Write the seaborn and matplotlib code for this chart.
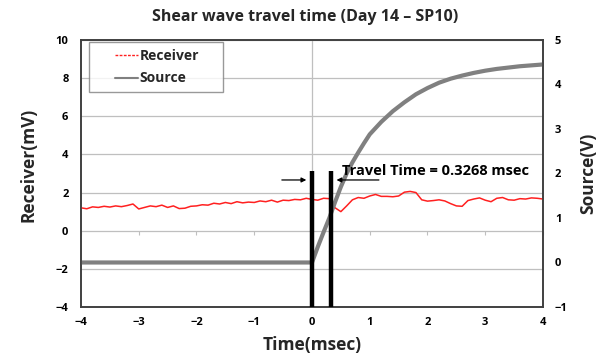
import numpy as np
import pandas as pd
import matplotlib
matplotlib.use("Agg")
import matplotlib.pyplot as plt
from matplotlib.lines import Line2D
from matplotlib.legend_handler import HandlerLine2D
import seaborn as sns

# Receiver signal (mV) vs time (msec)
receiver_time = [round(-4.0 + 0.1 * i, 1) for i in range(81)]
receiver_mv = [
    1.20, 1.15, 1.25, 1.22, 1.28, 1.24, 1.30, 1.26, 1.32, 1.40,
    1.14, 1.22, 1.30, 1.26, 1.34, 1.22, 1.30, 1.16, 1.18, 1.28,
    1.30, 1.36, 1.34, 1.44, 1.40, 1.48, 1.42, 1.52, 1.46, 1.50,
    1.48, 1.56, 1.52, 1.60, 1.50, 1.60, 1.58, 1.64, 1.62, 1.70,
    1.64, 1.60, 1.70, 1.68, 1.20, 1.00, 1.30, 1.62, 1.74, 1.70,
    1.82, 1.90, 1.80, 1.80, 1.78, 1.82, 2.02, 2.06, 2.00, 1.62,
    1.55, 1.58, 1.62, 1.56, 1.42, 1.30, 1.28, 1.58, 1.66, 1.72,
    1.60, 1.52, 1.70, 1.74, 1.62, 1.60, 1.68, 1.66, 1.72, 1.70,
    1.66,
]

# Source signal (V) vs time (msec)
source_time = [-4.0, -3.0, -2.0, -1.0, 0.0, 0.1, 0.2, 0.3, 0.4, 0.5, 0.6,
               0.7, 0.8, 0.9, 1.0, 1.2, 1.4, 1.6, 1.8, 2.0, 2.2, 2.4, 2.6,
               2.8, 3.0, 3.2, 3.4, 3.6, 3.8, 4.0]
source_v = [0.0, 0.0, 0.0, 0.0, 0.0, 0.35, 0.68, 1.00, 1.36, 1.70, 2.00,
            2.25, 2.47, 2.68, 2.88, 3.16, 3.40, 3.60, 3.78, 3.92, 4.04, 4.13,
            4.20, 4.26, 4.31, 4.35, 4.38, 4.41, 4.43, 4.45]

# Picked arrival markers (msec) and their height (mV)
pick_times = [0.0, 0.3268]
pick_top = 3.13
arrow_level = 2.66
travel_time = 0.3268

x_ticks = [-4, -3, -2, -1, 0, 1, 2, 3, 4]
left_ticks = [-4, -2, 0, 2, 4, 6, 8, 10]
right_ticks = [-1, 0, 1, 2, 3, 4, 5]

LEFT_LIM = (-4, 10)
RIGHT_LIM = (-1, 5)


def mv_to_v(mv):
    """Map a receiver-axis value onto the source axis."""
    frac = (mv - LEFT_LIM[0]) / (LEFT_LIM[1] - LEFT_LIM[0])
    return RIGHT_LIM[0] + frac * (RIGHT_LIM[1] - RIGHT_LIM[0])


sns.set_theme(style="white")
plt.rcParams["font.family"] = ["Open Sans", "DejaVu Sans"]
plt.rcParams["font.weight"] = "bold"

fig = plt.figure(figsize=(6.04, 3.58), dpi=100)
ax = fig.add_axes([0.1341, 0.1425, 0.7649, 0.7458])

rec = pd.DataFrame({"t": receiver_time, "v": receiver_mv})
src = pd.DataFrame({"t": source_time, "v": source_v})

ax.set_xlim(-4, 4)
ax.set_ylim(*LEFT_LIM)
ax.set_yticks(left_ticks)
ax.set_xticks(x_ticks)
ax.grid(axis="y", color="#bfbfbf", lw=0.9)
ax.axvline(0, color="#bfbfbf", lw=0.9, zorder=0)

# horizontal axis crossing at 0 mV with small tick marks
zero_frac = (0 - LEFT_LIM[0]) / (LEFT_LIM[1] - LEFT_LIM[0])
sax = ax.secondary_xaxis(zero_frac)
sax.set_xticks(x_ticks)
sax.set_xticklabels([])
sax.tick_params(direction="out", length=3, width=0.8, color="#bfbfbf")
sax.spines["bottom"].set_visible(False)
sax.spines["top"].set_visible(False)

sns.lineplot(data=rec, x="t", y="v", ax=ax, color="#ff2020", lw=1.1,
             legend=False, zorder=3)

ax2 = ax.twinx()
ax2.set_ylim(*RIGHT_LIM)
ax2.set_yticks(right_ticks)
sns.lineplot(data=src, x="t", y="v", ax=ax2, color="#808080", lw=3.0,
             legend=False, zorder=2)

ax2.set_zorder(ax.get_zorder() + 1)
ax.patch.set_visible(False)

# arrival markers
for pt in pick_times:
    ax2.plot([pt, pt], [RIGHT_LIM[0], mv_to_v(pick_top)], color="black",
             lw=3.2, solid_capstyle="butt", zorder=5)

ya = mv_to_v(arrow_level)
ax2.annotate("", xy=(pick_times[0] - 0.05, ya), xytext=(pick_times[0] - 0.57, ya),
             arrowprops=dict(arrowstyle="-|>", color="black", lw=0.9,
                             mutation_scale=7))
ax2.annotate("", xy=(pick_times[1] + 0.05, ya), xytext=(pick_times[1] + 0.88, ya),
             arrowprops=dict(arrowstyle="-|>", color="black", lw=0.9,
                             mutation_scale=7))
ax2.text(0.52, mv_to_v(pick_top), f"Travel Time = {travel_time:.4f} msec",
         fontsize=10.5, fontweight="bold", va="center", ha="left", color="black")

for a in (ax, ax2):
    a.set_xlabel("")
    a.set_ylabel("")
    for s in a.spines.values():
        s.set_color("#404040")
        s.set_linewidth(1.2)
    a.tick_params(length=0, labelsize=8, colors="black")
for lab in ax.get_xticklabels() + ax.get_yticklabels() + ax2.get_yticklabels():
    lab.set_fontweight("bold")
ax.tick_params(axis="y", pad=9)
ax.tick_params(axis="x", pad=7)
ax2.tick_params(axis="y", pad=8.5)

ax.set_xlabel("Time(msec)", fontsize=12.5, fontweight="bold", labelpad=6)
ax.set_ylabel("Receiver(mV)", fontsize=12.5, fontweight="bold")
ax.yaxis.set_label_coords(-0.095, 0.532)
ax2.set_ylabel("Source(V)", fontsize=12.5, fontweight="bold", labelpad=8)
ax.set_title("Shear wave travel time (Day 14 \u2013 SP10)", fontsize=11.5,
             fontweight="bold", pad=14, x=0.485)

handles = [Line2D([], [], color="#ff2020", lw=1.0, ls=(0, (2, 1))),
           Line2D([], [], color="#808080", lw=1.5)]
hmap = {h: HandlerLine2D(xpad=1.4) for h in handles}
leg = ax2.legend(handles, ["Receiver", "Source"], loc="upper left",
                 bbox_to_anchor=(0.017, 0.70, 0.29, 0.292), mode="expand",
                 borderaxespad=0, frameon=True, fancybox=False,
                 edgecolor="#808080", handlelength=3.05, handletextpad=0.1,
                 borderpad=0.5, labelspacing=0.6, handler_map=hmap,
                 prop={"weight": "bold", "size": 10})
leg.get_frame().set_linewidth(1.0)

fig.savefig("out.png", dpi=100)
